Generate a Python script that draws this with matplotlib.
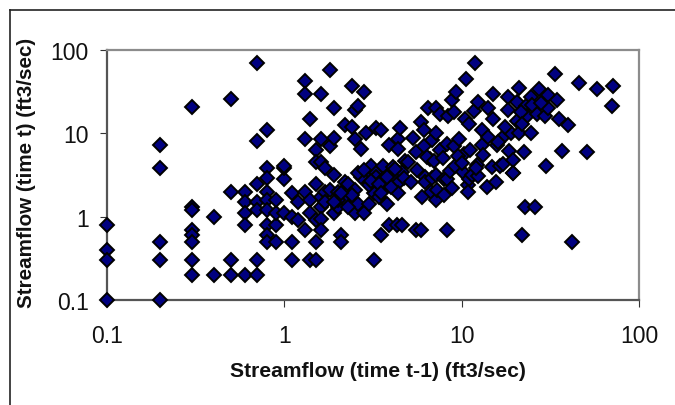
import matplotlib
matplotlib.use('Agg')
import matplotlib.pyplot as plt
from matplotlib.lines import Line2D

# streamflow pairs, grouped by area
low_prev = [0.1, 0.1, 0.1, 0.1, 0.2, 0.2, 0.2, 0.2, 0.2, 0.3, 0.3, 0.3, 0.3, 0.3, 0.3, 0.3, 0.3,
            0.4, 0.4, 0.5, 0.5, 0.5, 0.5, 0.6, 0.6, 0.6, 0.6, 0.6, 0.7, 0.7, 0.7, 0.7, 0.7, 0.7,
            0.7, 0.8, 0.8, 0.8, 0.8, 0.8, 0.8, 0.8, 0.8, 0.8, 0.9, 0.9, 0.9, 1.0, 1.0, 1.0, 1.0]
low_now = [0.8, 0.4, 0.3, 0.1, 0.1, 0.3, 0.5, 3.8, 7.3, 20.5, 1.3, 1.2, 0.7, 0.6, 0.5, 0.3, 0.2,
           1.0, 0.2, 25.5, 2.0, 0.3, 0.2, 0.2, 2.0, 1.5, 1.1, 0.8, 70, 0.2, 0.3, 8.0, 2.5, 1.5,
           1.2, 11, 3.8, 2.9, 2.0, 1.6, 1.2, 0.8, 0.6, 0.5, 0.5, 0.8, 1.1, 1.1, 2.8, 3.8, 4.0]

mid_prev = [1.1, 1.1, 1.1, 1.1, 1.2, 1.2, 1.3, 1.3, 1.3, 1.3, 1.3, 1.4, 1.4, 1.4, 1.4, 1.5, 1.5, 1.5, 1.5,
            1.5, 1.5, 1.6, 1.6, 1.6, 1.6, 1.6, 1.6, 1.6, 1.7, 1.7, 1.7, 1.8, 1.8, 1.8, 1.9, 1.9, 1.9,
            1.9, 2.0, 2.0, 2.1, 2.1, 2.2, 2.2, 2.2, 2.2, 2.3, 2.4, 2.4, 2.5, 2.5, 2.5, 2.5, 2.6, 2.6,
            2.7, 2.8, 2.8, 2.9, 2.9, 2.9, 3.0, 3.0, 3.1, 3.2, 3.2, 3.3, 3.3, 3.3, 3.4, 3.5, 3.5, 3.6,
            3.7, 3.8, 3.9, 3.9, 4.1, 4.1, 4.3, 4.3, 4.4, 4.4, 4.4, 4.5, 4.6, 4.6, 0.9, 2.0, 2.4, 2.7,
            3.0, 3.1, 3.6, 4.0, 4.2, 2.3, 2.6, 3.4, 3.8, 4.7, 1.9, 2.1, 2.8, 3.5, 4.8]
mid_now = [1.9, 1.0, 0.5, 0.3, 1.5, 0.9, 42, 30, 8.5, 2.0, 0.7, 15, 1.6, 1.1, 0.3, 6.3, 4.5, 2.5, 0.9,
           0.5, 0.3, 30, 8.5, 4.5, 1.7, 1.3, 0.95, 0.7, 3.8, 2.0, 1.5, 57, 7.0, 2.1, 20, 8.8, 3.2,
           1.1, 2.0, 1.3, 0.6, 0.5, 12.5, 2.6, 1.6, 1.6, 2.5, 37, 12, 19, 8.5, 2.1, 1.1, 21, 1.4,
           6.5, 31, 1.1, 10, 2.9, 2.8, 3.4, 1.4, 4.0, 1.9, 0.3, 11.5, 3.3, 3.0, 1.7, 11, 0.6, 4.0,
           2.2, 1.4, 7.2, 0.8, 3.9, 3.1, 2.5, 0.8, 8.5, 6.5, 1.9, 11.7, 3.4, 0.8, 1.6, 1.6, 1.8, 3.0,
           2.4, 2.7, 2.8, 2.3, 3.7, 1.3, 3.3, 2.5, 3.0, 2.9, 1.5, 1.9, 3.6, 1.9, 4.6]

high_prev = [5.2, 5.3, 5.5, 5.5, 5.9, 5.9, 6.1, 6.1, 6.2, 6.2, 6.5, 6.6, 6.7, 6.8, 6.8, 7.2, 7.2, 7.2, 7.2,
             7.3, 7.5, 7.5, 8.0, 8.0, 8.3, 8.3, 8.3, 8.4, 8.6, 8.8, 9.0, 9.0, 9.2, 9.3, 9.7, 10.2, 10.3,
             10.4, 10.6, 10.9, 11, 11, 11.2, 11.5, 11.7, 11.9, 12.2, 12.4, 12.4, 13, 13, 13.2, 13.9,
             14, 14.8, 15, 15, 15.6, 15.8, 16.5, 17, 17, 18.3, 18.3, 18.5, 19, 19.5, 19.5, 19.5,
             20.4, 20.5, 21, 21, 22, 22.5, 22.9, 23, 23.3, 24.6, 24.6, 26, 26.6, 27.3, 29.5, 30,
             30.6, 30.6, 33.5, 34.5, 35.5, 37, 40, 42, 45.6, 51, 57.9, 70, 71,
             5.0, 5.6, 6.4, 7.0, 7.8, 9.5, 10, 12, 14, 16, 17.5, 21.5, 22, 25, 28, 6.0, 8.8, 10.8]
high_now = [2.6, 8.7, 6.0, 0.7, 13.5, 0.7, 11, 7.0, 3.0, 2.6, 20, 4.9, 2.0, 8.3, 2.9, 20, 10, 3.2, 1.57,
            2.1, 17, 6.3, 2.8, 1.84, 7.5, 2.8, 0.7, 16, 3.5, 25, 18, 7.0, 4.0, 31, 8.6, 3.4, 5.7,
            15, 45, 2.4, 13, 2.8, 6.3, 3.2, 18.5, 70, 4.2, 24, 3.1, 11, 7.2, 5.5, 2.3,
            20, 3.9, 30, 15, 2.6, 7.2, 4.1, 9, 4.3, 27, 19, 6.2, 10, 4.8, 3.3, 3.3,
            24, 14, 35, 10, 0.6, 6.0, 1.3, 21, 16, 27, 10, 1.3, 17, 34, 16, 4.0,
            29, 20, 52, 25, 15, 6.2, 12.5, 0.5, 40, 6.0, 34, 21, 37,
            4.5, 3.6, 5.2, 4.6, 5.0, 5.4, 4.4, 3.8, 9.0, 7.8, 12, 18, 13, 22, 23, 1.7, 2.2, 2.0]

flow_prev = low_prev + mid_prev + high_prev
flow_now = low_now + mid_now + high_now

x_ticks = [0.1, 1, 10, 100]
y_ticks = [0.1, 1, 10, 100]
tick_text = ['0.1', '1', '10', '100']

plt.rcParams['font.family'] = ['Liberation Sans', 'DejaVu Sans']

W, H = 675, 406
fig = plt.figure(figsize=(W / 100, H / 100), dpi=100)
ax = fig.add_axes([107 / W, 1 - 301 / H, (639 - 107) / W, (301 - 51) / H])

ax.plot(flow_prev, flow_now, linestyle='none', marker='D', markersize=7.2,
        markerfacecolor='#000080', markeredgecolor='black', markeredgewidth=1.4,
        clip_on=False, zorder=3)

ax.set_xscale('log')
ax.set_yscale('log')
ax.set_xlim(0.1, 100)
ax.set_ylim(0.1, 100)
ax.set_xticks(x_ticks)
ax.set_xticklabels(tick_text)
ax.set_yticks(y_ticks)
ax.set_yticklabels(tick_text)
ax.minorticks_off()
ax.tick_params(axis='both', labelsize=16.5, length=5, width=0.8, color='#333333', labelcolor='#111111')
ax.tick_params(axis='x', pad=12)
ax.tick_params(axis='y', pad=8)

for side in ['top', 'right']:
    ax.spines[side].set_color('#8c8c8c')
    ax.spines[side].set_linewidth(1.6)
for side in ['left', 'bottom']:
    ax.spines[side].set_color('#555555')
    ax.spines[side].set_linewidth(1.6)

fig.text(378 / W, 1 - 372 / H, 'Streamflow (time t-1) (ft3/sec)', fontsize=15.2, fontweight='bold',
         ha='center', va='center', color='#111111')
fig.text(27 / W, 1 - 173 / H, 'Streamflow (time t) (ft3/sec)', fontsize=14.9, fontweight='bold',
         rotation=90, ha='center', va='center', color='#111111')

# outer chart frame runs off the right and bottom edges
fig.add_artist(Line2D([10 / W, 10 / W], [0, 1 - 10.5 / H], color='#222222', lw=1.2))
fig.add_artist(Line2D([10 / W, 1], [1 - 10.5 / H, 1 - 10.5 / H], color='#222222', lw=1.2))

fig.savefig('out.png', dpi=100)
